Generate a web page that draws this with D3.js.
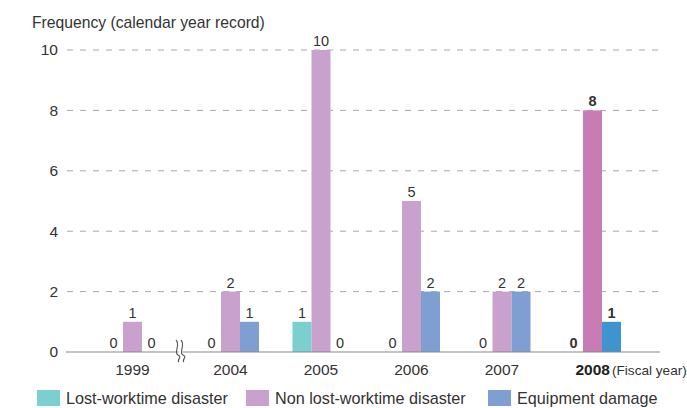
<!DOCTYPE html>
<html>
<head>
<meta charset="utf-8">
<script src="https://cdn.jsdelivr.net/npm/d3@7"></script>
<style>
  body { margin: 0; background: #fff; }
  svg text { font-family: "Liberation Sans", Arial, sans-serif; fill: #333; }
</style>
</head>
<body>
<svg id="chart" width="687" height="408"></svg>
<script>
// data
var years = ['1999', '2004', '2005', '2006', '2007', '2008'];
var lostWorktime = [0, 0, 1, 0, 0, 0];
var nonLostWorktime = [1, 2, 10, 5, 2, 8];
var equipmentDamage = [0, 1, 0, 2, 2, 1];
var seriesNames = ['Lost-worktime disaster', 'Non lost-worktime disaster', 'Equipment damage'];
var yTicks = [0, 2, 4, 6, 8, 10];

var svg = d3.select('#chart');
var plotLeft = 67, plotRight = 660, plotTop = 50, plotBottom = 352;
var barW = 19;
var colors = ['#7ccfcf', '#c8a2cc', '#7f9fd3'];
var colors2008 = ['#7ccfcf', '#c77cb4', '#3e94d1'];

var y = d3.scaleLinear().domain([0, 10]).range([plotBottom, plotTop]);
// group index -> centre, extra gap after 1999 (axis break)
var x = d3.scaleLinear().domain([1, 5]).range([230.5, 592.5]);
var xc = function(i) { return i == 0 ? x(0) - 7.5 : x(i); };
var sub = d3.scaleBand().domain([0, 1, 2]).range([-1.5 * barW, 1.5 * barW]);

// grid
svg.append('g').selectAll('line')
    .data(yTicks.filter(function(d) { return d > 0; }))
    .enter().append('line')
    .attr('x1', plotLeft).attr('x2', plotRight)
    .attr('y1', function(d) { return y(d); }).attr('y2', function(d) { return y(d); })
    .attr('stroke', '#a8a8a8').attr('stroke-width', 1)
    .attr('stroke-dasharray', '6,7');

// y labels
var yAxis = d3.axisLeft(y).tickValues(yTicks).tickSize(0).tickPadding(9);
svg.append('g').attr('transform', 'translate(' + plotLeft + ',0)').call(yAxis)
    .call(function(g) {
        g.select('.domain').remove();
        g.selectAll('text').attr('font-size', 15.5).attr('font-family', null).attr('fill', '#333');
    });

svg.append('text').attr('x', 32).attr('y', 28).attr('font-size', 15.7)
    .text('Frequency (calendar year record)');

// bars
var series = [lostWorktime, nonLostWorktime, equipmentDamage];
var rows = [];
years.forEach(function(yr, i) {
    series.forEach(function(s, k) {
        rows.push({ i: i, k: k, v: s[i], last: yr == '2008' });
    });
});

svg.append('g').selectAll('rect')
    .data(rows.filter(function(d) { return d.v > 0; }))
    .enter().append('rect')
    .attr('x', function(d) { return xc(d.i) + sub(d.k); })
    .attr('width', barW)
    .attr('y', function(d) { return y(d.v); })
    .attr('height', function(d) { return y(0) - y(d.v); })
    .attr('fill', function(d) { return d.last ? colors2008[d.k] : colors[d.k]; });

svg.append('g').selectAll('text')
    .data(rows)
    .enter().append('text')
    .attr('x', function(d) { return xc(d.i) + sub(d.k) + barW / 2; })
    .attr('y', function(d) { return y(d.v) - 4; })
    .attr('text-anchor', 'middle')
    .attr('font-size', 14.5)
    .attr('font-weight', function(d) { return d.last ? 'bold' : 'normal'; })
    .text(function(d) { return d.v; });

// baseline
svg.append('line').attr('x1', plotLeft - 1).attr('x2', plotRight)
    .attr('y1', y(0)).attr('y2', y(0))
    .attr('stroke', '#888').attr('stroke-width', 1.2);

// axis break squiggle
var bx = (xc(0) + xc(1)) / 2 - 1;
svg.append('rect').attr('x', bx - 2).attr('y', y(0) - 2).attr('width', 4).attr('height', 4).attr('fill', '#fff');
[-2.5, 2.5].forEach(function(o) {
    var cx = bx + o;
    svg.append('path')
        .attr('d', 'M' + (cx - 2) + ',' + (y(0) - 12) +
            ' C' + (cx + 3) + ',' + (y(0) - 7) + ' ' + (cx - 5) + ',' + (y(0) + 1) + ' ' + cx + ',' + (y(0) + 3) +
            ' C' + (cx + 5) + ',' + (y(0) + 5) + ' ' + (cx - 2) + ',' + (y(0) + 8) + ' ' + (cx + 1) + ',' + (y(0) + 10))
        .attr('fill', 'none').attr('stroke', '#555').attr('stroke-width', 1.1);
});

// year labels
years.forEach(function(yr, i) {
    var t = svg.append('text').attr('x', xc(i)).attr('y', 375).attr('font-size', 15.5);
    if (yr == '2008') {
        t.attr('x', xc(i) - 17);
        t.append('tspan').attr('font-weight', 'bold').attr('fill', '#222').text(yr);
        t.append('tspan').attr('font-size', 13.6).attr('dx', 2).text('(Fiscal year)');
    } else {
        t.attr('text-anchor', 'middle').text(yr);
    }
});

// legend
var legX = [37, 246, 488];
seriesNames.forEach(function(name, k) {
    svg.append('rect').attr('x', legX[k]).attr('y', 390).attr('width', 23).attr('height', 16).attr('fill', colors[k]);
    svg.append('text').attr('x', legX[k] + 29).attr('y', 404).attr('font-size', 16.2).text(name);
});
</script>
</body>
</html>
